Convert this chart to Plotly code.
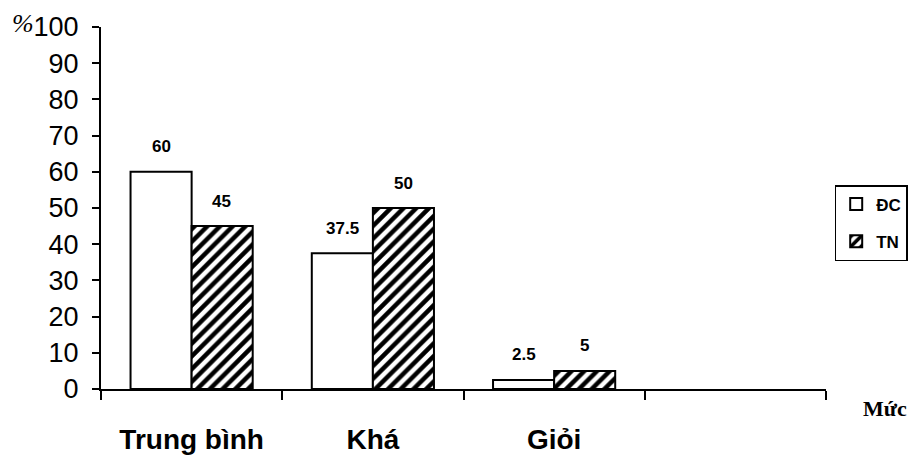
import plotly.graph_objects as go

categories = ["Trung bình", "Khá", "Giỏi", " "]
dc_values = [60, 37.5, 2.5, None]
tn_values = [45, 50, 5, None]
dc_labels = ["60", "37.5", "2.5", ""]
tn_labels = ["45", "50", "5", ""]
y_ticks = [0, 10, 20, 30, 40, 50, 60, 70, 80, 90, 100]

label_font = dict(family="Liberation Sans Narrow, Arial Narrow, Liberation Sans", size=17, color="black")

fig = go.Figure()
fig.add_trace(go.Bar(
    name="<b>ĐC</b>", x=categories, y=dc_values, legendgroup="dc",
    marker=dict(color="white", line=dict(color="black", width=2)),
))
fig.add_trace(go.Bar(
    name="<b>TN</b>", x=categories, y=tn_values, legendgroup="tn",
    marker=dict(color="white", line=dict(color="black", width=2),
                pattern=dict(shape="/", fgcolor="black", bgcolor="white", size=9,
                             solidity=0.5, fgopacity=1)),
))

bar_offset = 0.1675
for i, (v, t) in enumerate(zip(dc_values, dc_labels)):
    if v is not None:
        fig.add_annotation(x=i - bar_offset, y=v, text="<b>" + t + "</b>", showarrow=False,
                           yanchor="middle", yshift=25, font=label_font)
for i, (v, t) in enumerate(zip(tn_values, tn_labels)):
    if v is not None:
        fig.add_annotation(x=i + bar_offset, y=v, text="<b>" + t + "</b>", showarrow=False,
                           yanchor="middle", yshift=25, font=label_font)

fig.add_annotation(xref="paper", yref="paper", x=-0.107, y=1.0, text="<i>%</i>", showarrow=False,
                   xanchor="center", yanchor="middle", yshift=4,
                   font=dict(family="Liberation Serif, Times New Roman", size=26, color="black"))
fig.add_annotation(xref="paper", yref="paper", x=1.081, y=0.0, text="<b>Mức</b>", showarrow=False,
                   xanchor="center", yanchor="middle", yshift=-19,
                   font=dict(family="Liberation Serif, Times New Roman", size=22, color="black"))

fig.update_layout(
    width=908, height=449,
    margin=dict(l=93, r=90, t=19, b=68, autoexpand=False),
    paper_bgcolor="white", plot_bgcolor="white",
    barmode="group", bargap=0.326, bargroupgap=0,
    showlegend=True,
    legend=dict(x=1.012, y=0.5635, xanchor="left", yanchor="top",
                bordercolor="black", borderwidth=1.5, bgcolor="white",
                font=dict(family="Liberation Sans", size=17, color="black"),
                itemwidth=30, tracegroupgap=12),
    xaxis=dict(type="category", categoryorder="array", categoryarray=categories,
               range=[-0.5, 3.5], tickson="boundaries", ticks="outside", ticklen=9,
               tickwidth=2, tickcolor="black", showline=True, linecolor="black", linewidth=2,
               showgrid=False, zeroline=False,
               tickfont=dict(family="Liberation Sans", size=28, color="black"),
               ticklabelstandoff=24),
    yaxis=dict(range=[0, 100], tickvals=y_ticks, ticks="outside", ticklen=7, tickwidth=2,
               tickcolor="black", showline=True, linecolor="black", linewidth=2,
               showgrid=False, zeroline=False,
               tickfont=dict(family="Liberation Sans", size=27, color="black"),
               ticklabelstandoff=8),
)
fig.update_xaxes(ticktext=["<b>Trung bình</b>", "<b>Khá</b>", "<b>Giỏi</b>", " "], tickvals=categories)

fig.write_html("out.html")
